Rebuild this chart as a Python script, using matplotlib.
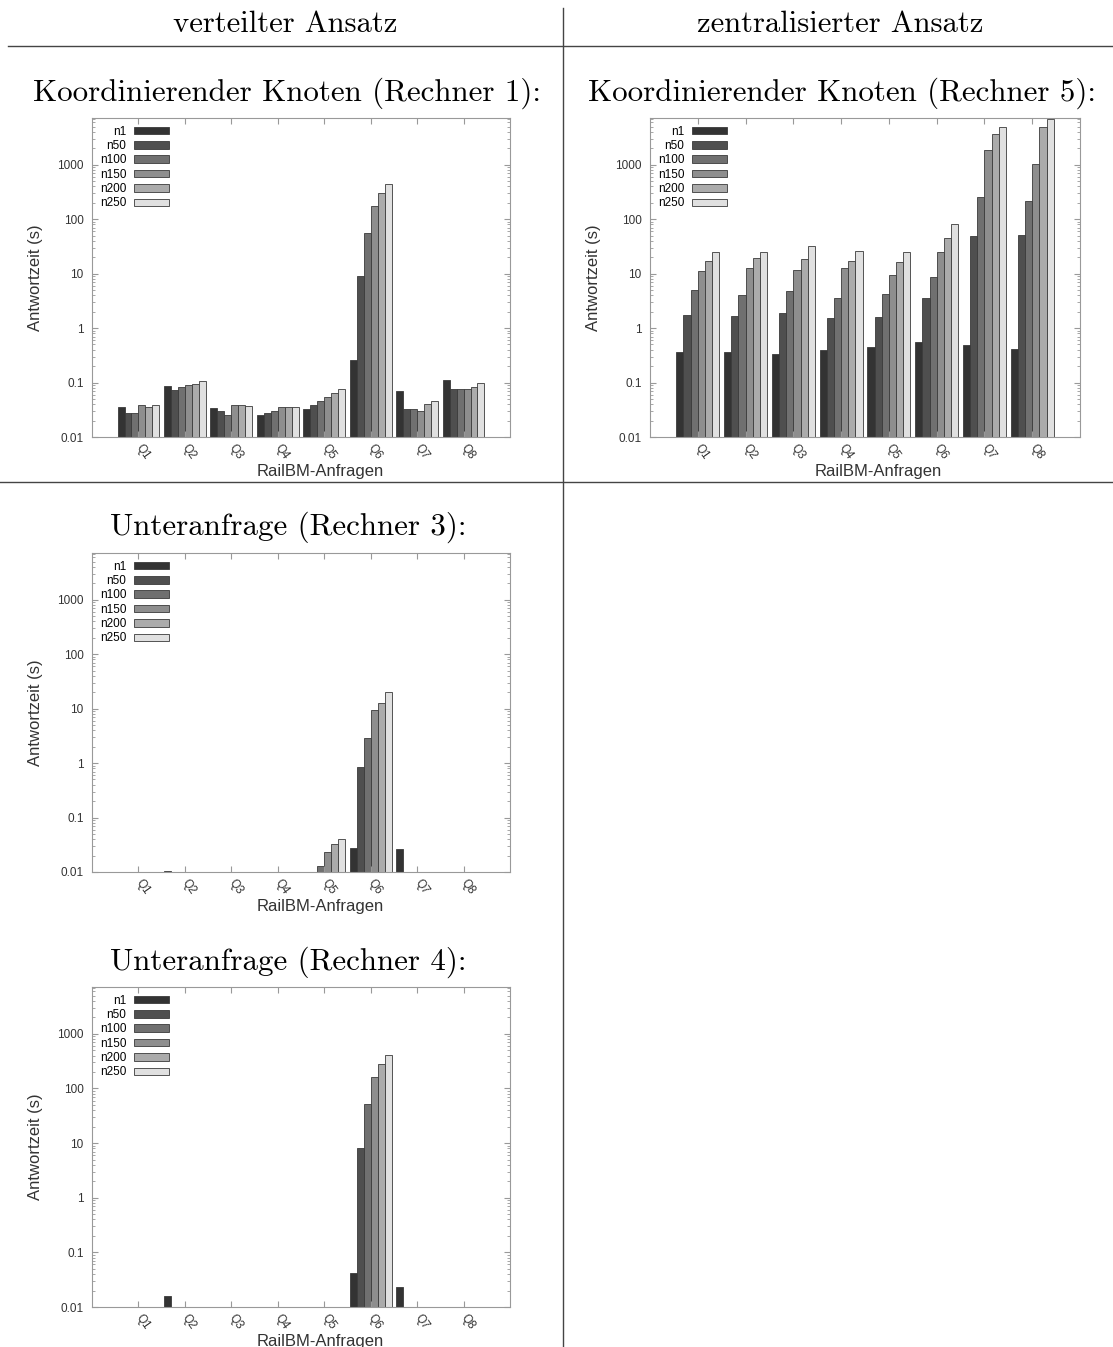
import numpy as np
import matplotlib
matplotlib.use("Agg")
import matplotlib.pyplot as plt
from matplotlib.lines import Line2D
import matplotlib.ticker as ticker

nan = np.nan

QUERIES = ["Q1", "Q2", "Q3", "Q4", "Q5", "Q6", "Q7", "Q8"]
SERIES = ["n1", "n50", "n100", "n150", "n200", "n250"]

# response times (s) per series, Q1..Q8 -- verteilter Ansatz, Rechner 1
r1_n1   = [0.035, 0.087, 0.034, 0.025, 0.033, 0.255, 0.070, 0.110]
r1_n50  = [0.028, 0.073, 0.030, 0.028, 0.038, 8.9,   0.033, 0.077]
r1_n100 = [0.028, 0.083, 0.025, 0.030, 0.046, 55,    0.033, 0.077]
r1_n150 = [0.039, 0.089, 0.039, 0.036, 0.055, 178,   0.030, 0.077]
r1_n200 = [0.036, 0.096, 0.039, 0.036, 0.065, 299,   0.041, 0.083]
r1_n250 = [0.038, 0.107, 0.037, 0.036, 0.077, 445,   0.046, 0.097]

# zentralisierter Ansatz, Rechner 5
r5_n1   = [0.36, 0.36, 0.34, 0.40, 0.44, 0.56, 0.49, 0.41]
r5_n50  = [1.77, 1.67, 1.9,  1.54, 1.63, 3.6,  50,   51]
r5_n100 = [5.1,  4.1,  4.7,  3.6,  4.2,  8.8,  258,  218]
r5_n150 = [11.4, 12.6, 11.5, 12.6, 9.6,  25,   1870, 1040]
r5_n200 = [17.4, 19.5, 18.5, 16.8, 16,   46,   3590, 4990]
r5_n250 = [24.8, 25,   31.6, 26,   24.8, 81,   4990, 6800]

# Unteranfrage, Rechner 3
r3_n1   = [nan, 0.0103, nan, nan, nan,    0.028, 0.026, nan]
r3_n50  = [nan, nan,    nan, nan, nan,    0.86,  nan,   nan]
r3_n100 = [nan, nan,    nan, nan, 0.0127, 2.9,   nan,   nan]
r3_n150 = [nan, nan,    nan, nan, 0.0234, 9.4,   nan,   nan]
r3_n200 = [nan, nan,    nan, nan, 0.0325, 12.7,  nan,   nan]
r3_n250 = [nan, nan,    nan, nan, 0.0397, 20.6,  nan,   nan]

# Unteranfrage, Rechner 4
r4_n1   = [nan, 0.016, nan, nan, nan, 0.042, 0.023, nan]
r4_n50  = [nan, nan,   nan, nan, nan, 8.2,   nan,   nan]
r4_n100 = [nan, nan,   nan, nan, nan, 52,    nan,   nan]
r4_n150 = [nan, nan,   nan, nan, nan, 163,   nan,   nan]
r4_n200 = [nan, nan,   nan, nan, nan, 280,   nan,   nan]
r4_n250 = [nan, nan,   nan, nan, nan, 415,   nan,   nan]

COLORS = ["#333333", "#4f4f4f", "#707070", "#8e8e8e", "#ababab", "#e0e0e0"]
W, H = 1113, 1347
SERIF = "cmr10"
SANS = "Liberation Sans"

fig = plt.figure(figsize=(W / 100, H / 100), dpi=100)


def px_axes(x0, y0, x1, y1):
    return fig.add_axes([x0 / W, 1 - y1 / H, (x1 - x0) / W, (y1 - y0) / H])


def draw_chart(ax, data, xlab_pos):
    x = np.arange(1, len(QUERIES) + 1)
    bw = 0.15
    for i, (name, vals) in enumerate(zip(SERIES, data)):
        ax.bar(x + (i - 2.5) * bw, vals, bw, color=COLORS[i],
               edgecolor="#3a3a3a", linewidth=0.6, label=name)
    ax.set_yscale("log")
    ax.set_ylim(0.01, 7200)
    ax.set_xlim(0, 9)
    ax.set_xticks(x)
    ax.set_xticklabels(QUERIES, rotation=-55, ha="left", va="center",
                       rotation_mode="anchor", fontsize=8.5, family=SANS, color="#333333")
    ax.yaxis.set_major_locator(ticker.LogLocator(base=10, numticks=10))
    ax.yaxis.set_major_formatter(ticker.FuncFormatter(lambda v, p: f"{v:g}"))
    ax.yaxis.set_minor_locator(ticker.LogLocator(base=10, subs=np.arange(2, 10), numticks=10))
    ax.yaxis.set_minor_formatter(ticker.NullFormatter())
    ax.tick_params(axis="both", which="both", direction="in", top=True, right=True,
                   color="#999999")
    ax.tick_params(axis="y", which="major", length=4, labelsize=8.5, labelcolor="#333333", pad=6)
    ax.tick_params(axis="y", which="minor", length=2)
    ax.tick_params(axis="x", which="major", length=4, pad=6)
    for lab in ax.get_yticklabels():
        lab.set_family(SANS)
    for s in ax.spines.values():
        s.set_color("#999999")
        s.set_linewidth(0.8)
    ax.set_ylabel("Antwortzeit (s)", fontsize=12, family=SANS, color="#333333", labelpad=10)
    ax.set_xlabel("RailBM-Anfragen", fontsize=12, family=SANS, color="#333333")
    ax.xaxis.set_label_coords(xlab_pos, -0.085)
    ax.legend(loc="upper left", bbox_to_anchor=(0.0, 1.0), markerfirst=False, frameon=False,
              prop={"family": SANS, "size": 8.5}, handlelength=2.9, handleheight=0.6,
              labelspacing=0.2, handletextpad=0.7, borderaxespad=0.25)


# table lines
fig.add_artist(Line2D([8 / W, 1], [1 - 46 / H] * 2, color="#444444", lw=1.0))
fig.add_artist(Line2D([0, 1], [1 - 482 / H] * 2, color="#444444", lw=1.0))
fig.add_artist(Line2D([563 / W] * 2, [1 - 8 / H, 0], color="#444444", lw=1.0))

fig.text(285 / W, 1 - 24 / H, "verteilter Ansatz", family=SERIF, fontsize=22,
         ha="center", va="center")
fig.text(840 / W, 1 - 24 / H, "zentralisierter Ansatz", family=SERIF, fontsize=22,
         ha="center", va="center")
fig.text(287 / W, 1 - 93 / H, "Koordinierender Knoten (Rechner 1):", family=SERIF,
         fontsize=22.3, ha="center", va="center")
fig.text(842 / W, 1 - 93 / H, "Koordinierender Knoten (Rechner 5):", family=SERIF,
         fontsize=22.3, ha="center", va="center")
fig.text(288 / W, 1 - 527 / H, "Unteranfrage (Rechner 3):", family=SERIF,
         fontsize=22.3, ha="center", va="center")
fig.text(288 / W, 1 - 962 / H, "Unteranfrage (Rechner 4):", family=SERIF,
         fontsize=22.3, ha="center", va="center")

draw_chart(px_axes(92, 118, 510, 437), [r1_n1, r1_n50, r1_n100, r1_n150, r1_n200, r1_n250], 0.545)
draw_chart(px_axes(650, 118, 1080, 437), [r5_n1, r5_n50, r5_n100, r5_n150, r5_n200, r5_n250], 0.53)
draw_chart(px_axes(92, 553, 510, 872), [r3_n1, r3_n50, r3_n100, r3_n150, r3_n200, r3_n250], 0.545)
draw_chart(px_axes(92, 987, 510, 1307), [r4_n1, r4_n50, r4_n100, r4_n150, r4_n200, r4_n250], 0.545)

fig.savefig("out.png", dpi=100)
